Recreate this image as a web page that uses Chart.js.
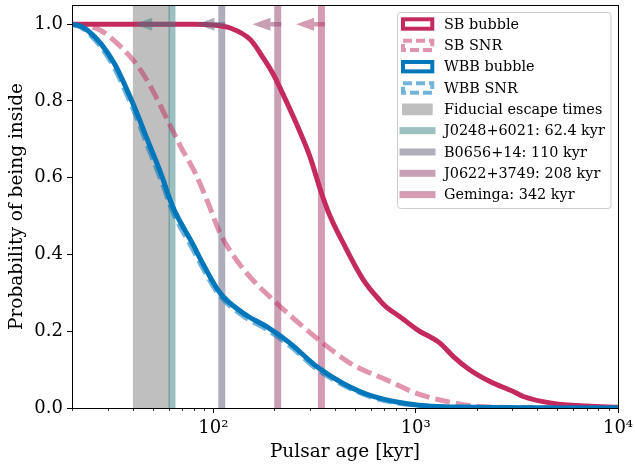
<!DOCTYPE html>
<html><head><meta charset="utf-8">
<script src="https://cdn.jsdelivr.net/npm/chart.js@4/dist/chart.umd.min.js"></script>
<style>html,body{margin:0;padding:0;background:#fff}</style>
</head><body>
<canvas id="c" width="635" height="465"></canvas>
<script>
// ---- data ----
const sbBubbleAge  = [20, 80, 100, 121, 152, 176, 198, 221, 258, 300, 342, 377, 438, 551, 666, 719, 836, 1011, 1318, 1535, 1855, 2328, 3033, 3404, 4790, 7000, 10000];
const sbBubbleProb = [1.0, 1.0, 0.998, 0.99, 0.96, 0.913, 0.869, 0.817, 0.739, 0.655, 0.56, 0.50, 0.43, 0.334, 0.28, 0.262, 0.238, 0.205, 0.169, 0.134, 0.099, 0.069, 0.043, 0.030, 0.012, 0.005, 0.002];

const sbSnrAge  = [20, 24, 27.9, 32.5, 37.8, 44, 51.3, 59.6, 69.4, 80.8, 94, 107.8, 140.6, 205.6, 336.5, 473, 530, 719, 1011, 1585, 2080, 4000, 10000];
const sbSnrProb = [1.0, 0.996, 0.983, 0.956, 0.922, 0.878, 0.817, 0.748, 0.678, 0.615, 0.535, 0.456, 0.362, 0.273, 0.175, 0.117, 0.103, 0.073, 0.038, 0.012, 0.004, 0.001, 0.0];

const wbbBubbleAge  = [20, 22, 24, 27.9, 32.5, 36.4, 40.8, 47.5, 55.3, 61, 64.4, 79.5, 85.9, 107.8, 140.6, 183.4, 239, 324, 438, 617, 1011, 2000, 10000];
const wbbBubbleProb = [1.0, 0.995, 0.983, 0.948, 0.896, 0.843, 0.783, 0.695, 0.608, 0.543, 0.513, 0.425, 0.39, 0.30, 0.247, 0.212, 0.169, 0.108, 0.064, 0.030, 0.008, 0.002, 0.0];

const wbbSnrAge  = [20, 22, 24, 27.9, 32.5, 36.4, 40.8, 47.5, 55.3, 61, 64.4, 79.5, 85.9, 107.8, 140.6, 183.4, 239, 324, 438, 617, 1011, 2000, 10000];
const wbbSnrProb = [1.0, 0.993, 0.978, 0.940, 0.885, 0.830, 0.770, 0.680, 0.592, 0.530, 0.500, 0.412, 0.378, 0.292, 0.240, 0.205, 0.162, 0.102, 0.060, 0.027, 0.007, 0.001, 0.0];

const fiducialBand = [40, 61];
const pulsarNames  = ["J0248+6021", "B0656+14", "J0622+3749", "Geminga"];
const pulsarAges   = [62.4, 110, 208, 342];
const arrowTips    = [40.6, 82.5, 156, 256.5];
const pulsarColors = ["rgba(57,127,127,0.5)", "rgba(97,93,119,0.5)", "rgba(145,65,107,0.5)", "rgba(171,55,101,0.5)"];

const xMajorTicks = [100, 1000, 10000];
const xMajorLabels = ["10\u00B2", "10\u00B3", "10\u2074"];
const xMinorTicks = [20,30,40,50,60,70,80,90,200,300,400,500,600,700,800,900,2000,3000,4000,5000,6000,7000,8000,9000];
const yTicks = [0, 0.2, 0.4, 0.6, 0.8, 1.0];

const seriesLabels = ["SB bubble", "SB SNR", "WBB bubble", "WBB SNR"];
const CRIMSON = "#C42A5E";
const BLUE = "#0077BB";
const FONT = "'DejaVu Serif', serif";

const pts = (xs, ys) => xs.map((x, i) => ({x, y: ys[i]}));

const overlay = {
  id: 'overlay',
  beforeDatasetsDraw(chart) {
    const {ctx, chartArea: a, scales: {x, y}} = chart;
    ctx.save();
    ctx.beginPath(); ctx.rect(a.left, a.top, a.right - a.left, a.bottom - a.top); ctx.clip();
    const b0 = x.getPixelForValue(fiducialBand[0]), b1 = x.getPixelForValue(fiducialBand[1]);
    ctx.fillStyle = "rgba(128,128,128,0.5)";
    ctx.fillRect(b0, a.top, b1 - b0, a.bottom - a.top);
    pulsarAges.forEach((age, i) => {
      const px = x.getPixelForValue(age);
      ctx.fillStyle = pulsarColors[i];
      ctx.fillRect(px - 3.5, a.top, 7, a.bottom - a.top);
    });
    ctx.restore();
  },
  afterDatasetsDraw(chart) {
    const {ctx, chartArea: a, scales: {x, y}} = chart;
    ctx.save();
    const py = y.getPixelForValue(1.0);
    pulsarAges.forEach((age, i) => {
      const x0 = x.getPixelForValue(age) + 3.5;
      const x1 = x.getPixelForValue(arrowTips[i]);
      const hl = 18, hw = 6.5, sw = 2.2;
      ctx.fillStyle = pulsarColors[i];
      ctx.beginPath();
      ctx.moveTo(x0, py - sw);
      ctx.lineTo(x1 + hl, py - sw);
      ctx.lineTo(x1 + hl, py - hw);
      ctx.lineTo(x1, py);
      ctx.lineTo(x1 + hl, py + hw);
      ctx.lineTo(x1 + hl, py + sw);
      ctx.lineTo(x0, py + sw);
      ctx.closePath();
      ctx.fill();
    });
    ctx.restore();
  },
  afterDraw(chart) {
    const {ctx, chartArea: a, scales: {x}} = chart;
    ctx.save();
    ctx.strokeStyle = "#000"; ctx.lineWidth = 0.8;
    xMinorTicks.forEach(v => {
      const px = Math.round(x.getPixelForValue(v)) + 0.5;
      ctx.beginPath(); ctx.moveTo(px, a.bottom); ctx.lineTo(px, a.bottom + 3); ctx.stroke();
    });
    ctx.strokeStyle = "#000"; ctx.lineWidth = 1;
    ctx.strokeRect(Math.round(a.left) + 0.5, Math.round(a.top) + 0.5, Math.round(a.right - a.left), Math.round(a.bottom - a.top));
    // legend
    const lx = 397.5, ly = 12.5, lw = 213.5, lh = 196;
    ctx.fillStyle = "rgba(255,255,255,0.85)";
    ctx.strokeStyle = "#CCCCCC"; ctx.lineWidth = 1;
    ctx.beginPath();
    if (ctx.roundRect) ctx.roundRect(lx, ly, lw, lh, 3); else ctx.rect(lx, ly, lw, lh);
    ctx.fill(); ctx.stroke();
    const labels = [
      seriesLabels[0], seriesLabels[1], seriesLabels[2], seriesLabels[3],
      "Fiducial escape times",
      ...pulsarNames.map((n, i) => n + ": " + pulsarAges[i] + " kyr")
    ];
    const step = 21.33, y0 = 24;
    labels.forEach((t, i) => {
      const yc = y0 + i * step;
      if (i < 4) {
        const col = [CRIMSON, "rgba(196,42,94,0.5)", BLUE, "rgba(0,119,187,0.55)"][i];
        ctx.fillStyle = "#fff";
        ctx.fillRect(403, yc - 4.7, 29.3, 9.4);
        ctx.strokeStyle = col; ctx.lineWidth = 4;
        ctx.setLineDash(i % 2 ? [9, 4] : []);
        ctx.strokeRect(403, yc - 4.7, 29.3, 9.4);
        ctx.setLineDash([]);
      } else if (i === 4) {
        ctx.fillStyle = "rgba(128,128,128,0.5)";
        ctx.fillRect(402, yc - 5.8, 30.7, 11.7);
      } else {
        ctx.fillStyle = pulsarColors[i - 5];
        ctx.fillRect(399.5, yc - 3.5, 36, 7);
      }
      ctx.fillStyle = "#000";
      ctx.font = "14.4px " + FONT;
      ctx.textBaseline = "middle"; ctx.textAlign = "left";
      ctx.fillText(t, 444, yc + 1);
    });
    ctx.restore();
  }
};

const ds = (label, xs, ys, color, dash, order) => ({
  label, data: pts(xs, ys), borderColor: color, backgroundColor: color,
  borderWidth: 5, borderDash: dash, pointRadius: 0, fill: false,
  cubicInterpolationMode: 'monotone', order, borderCapStyle: 'butt'
});

new Chart(document.getElementById('c'), {
  type: 'line',
  data: {
    datasets: [
      ds(seriesLabels[2], wbbBubbleAge, wbbBubbleProb, BLUE, [], 1),
      ds(seriesLabels[3], wbbSnrAge, wbbSnrProb, "rgba(0,119,187,0.55)", [15, 6], 2),
      ds(seriesLabels[1], sbSnrAge, sbSnrProb, "rgba(196,42,94,0.5)", [15, 6], 3),
      ds(seriesLabels[0], sbBubbleAge, sbBubbleProb, CRIMSON, [], 4),
    ]
  },
  options: {
    responsive: false, animation: false, devicePixelRatio: 1,
    layout: {padding: {left: 0, top: 5, right: 17, bottom: 0}},
    plugins: {legend: {display: false}, tooltip: {enabled: false}},
    scales: {
      x: {
        type: 'logarithmic', min: 20, max: 10000,
        afterBuildTicks(s) { s.ticks = xMajorTicks.map(v => ({value: v})); },
        afterFit(s) { s.height = 57; s.paddingLeft = 0; s.paddingRight = 0; },
        ticks: {
          autoSkip: false, maxRotation: 0, padding: 5, color: '#000',
          font: {family: FONT, size: 18},
          callback: (v) => { const i = xMajorTicks.indexOf(v); return i >= 0 ? xMajorLabels[i] : ''; }
        },
        grid: {display: true, drawOnChartArea: false, drawTicks: true, tickLength: 5, tickColor: '#000', tickWidth: 1},
        border: {display: false},
        title: {display: true, text: 'Pulsar age [kyr]', color: '#000', font: {family: FONT, size: 18.5}, padding: {top: 0, bottom: 1.5}}
      },
      y: {
        min: 0, max: 1.05,
        afterBuildTicks(s) { s.ticks = yTicks.map(v => ({value: v})); },
        afterFit(s) { s.width = 72; s.paddingTop = 0; s.paddingBottom = 0; },
        ticks: {
          padding: 4, color: '#000', font: {family: FONT, size: 18},
          callback: (v) => Number(v).toFixed(1)
        },
        grid: {display: true, drawOnChartArea: false, drawTicks: true, tickLength: 5, tickColor: '#000', tickWidth: 1},
        border: {display: false},
        title: {display: true, text: 'Probability of being inside', color: '#000', font: {family: FONT, size: 18.5}, padding: {top: 6, bottom: 0}}
      }
    }
  },
  plugins: [overlay]
});
</script>
</body></html>
